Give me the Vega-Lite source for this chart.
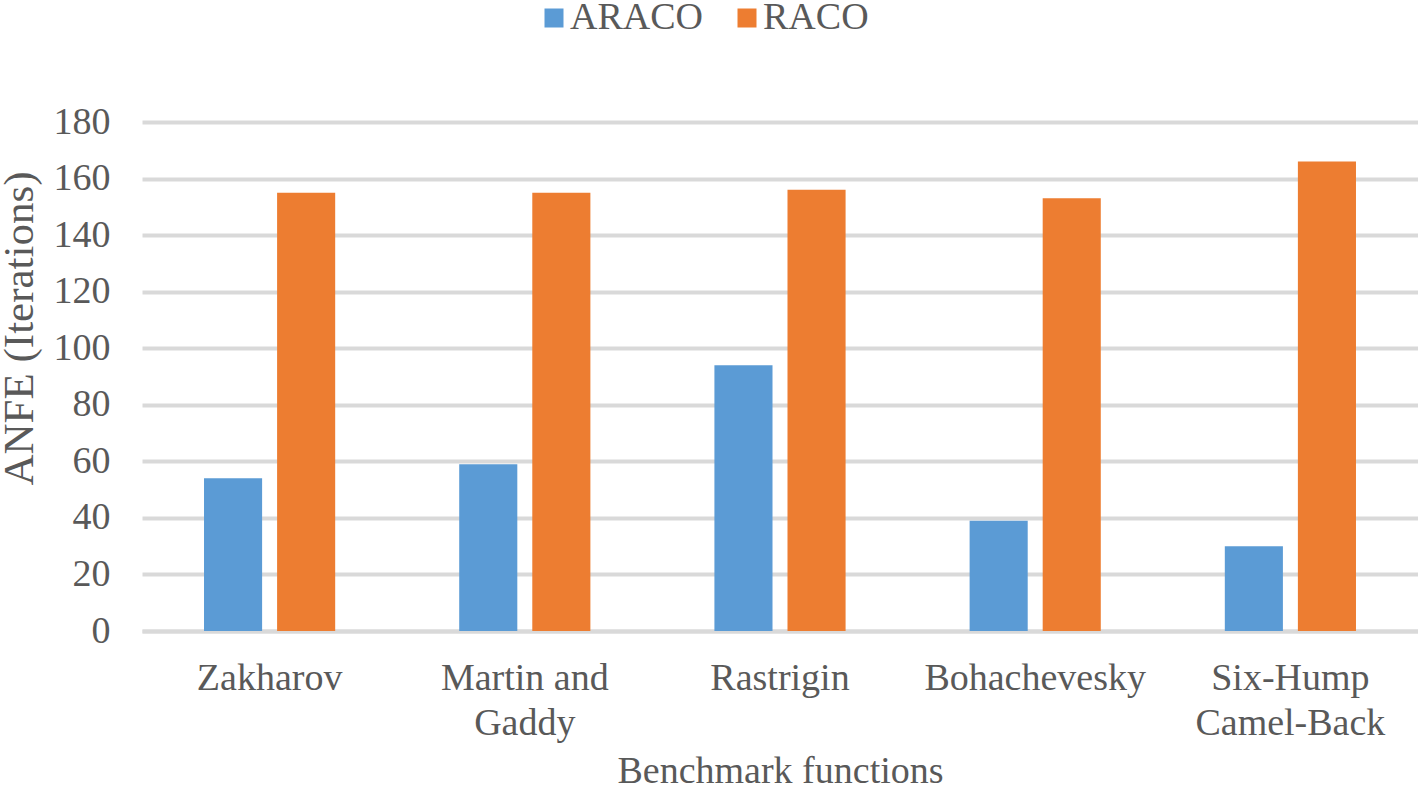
{
  "$schema": "https://vega.github.io/schema/vega-lite/v6.json",
  "width": 1276,
  "height": 509,
  "autosize": {"type": "none"},
  "padding": {"left": 142, "top": 122, "right": 0, "bottom": 164},
  "background": "white",
  "config": {
    "view": {"stroke": null},
    "font": "Liberation Serif"
  },
  "data": {
    "values": [
      {"func": "Zakharov", "algo": "ARACO", "value": 54},
      {"func": "Zakharov", "algo": "RACO", "value": 155},
      {"func": "Martin and|Gaddy", "algo": "ARACO", "value": 59},
      {"func": "Martin and|Gaddy", "algo": "RACO", "value": 155},
      {"func": "Rastrigin", "algo": "ARACO", "value": 94},
      {"func": "Rastrigin", "algo": "RACO", "value": 156},
      {"func": "Bohachevesky", "algo": "ARACO", "value": 39},
      {"func": "Bohachevesky", "algo": "RACO", "value": 153},
      {"func": "Six-Hump|Camel-Back", "algo": "ARACO", "value": 30},
      {"func": "Six-Hump|Camel-Back", "algo": "RACO", "value": 166}
    ]
  },
  "mark": {"type": "bar"},
  "encoding": {
    "x": {
      "field": "func",
      "type": "nominal",
      "sort": null,
      "scale": {"paddingInner": 0.486, "paddingOuter": 0.243},
      "axis": {
        "title": "Benchmark functions",
        "titleFont": "Liberation Serif",
        "titleFontSize": 38,
        "titleFontWeight": "normal",
        "titleColor": "#595959",
        "titleBaseline": "alphabetic",
        "titleY": 151,
        "titleX": 638,
        "labelExpr": "split(datum.label, '|')",
        "labelAngle": 0,
        "labelLimit": 0,
        "labelFont": "Liberation Serif",
        "labelFontSize": 38,
        "labelColor": "#595959",
        "labelBaseline": "top",
        "labelPadding": 28,
        "labelLineHeight": 45,
        "ticks": false,
        "domain": true,
        "domainColor": "#d9d9d9",
        "domainWidth": 4,
        "grid": false
      }
    },
    "xOffset": {
      "field": "algo",
      "type": "nominal",
      "scale": {"paddingInner": 0.205, "paddingOuter": 0}
    },
    "y": {
      "field": "value",
      "type": "quantitative",
      "scale": {"domain": [0, 180], "nice": false},
      "axis": {
        "title": "ANFE (Iterations)",
        "titleFont": "Liberation Serif",
        "titleFontSize": 43,
        "titleFontWeight": "normal",
        "titleColor": "#595959",
        "titleAngle": -90,
        "titleBaseline": "alphabetic",
        "titleAlign": "center",
        "titleX": -110,
        "titleY": 206,
        "values": [0, 20, 40, 60, 80, 100, 120, 140, 160, 180],
        "labelFont": "Liberation Serif",
        "labelFontSize": 38,
        "labelColor": "#595959",
        "labelPadding": 32,
        "ticks": false,
        "domain": false,
        "grid": true,
        "gridColor": "#d9d9d9",
        "gridWidth": 4
      }
    },
    "color": {
      "field": "algo",
      "type": "nominal",
      "scale": {"domain": ["ARACO", "RACO"], "range": ["#5B9BD5", "#ED7D31"]},
      "legend": {
        "title": null,
        "orient": "none",
        "direction": "horizontal",
        "legendX": 393,
        "legendY": -123,
        "padding": 0,
        "symbolType": "square",
        "symbolSize": 361,
        "symbolStrokeWidth": 0,
        "labelFont": "Liberation Serif",
        "labelFontSize": 38,
        "labelColor": "#595959",
        "labelOffset": -3,
        "columnPadding": 24
      }
    }
  }
}
